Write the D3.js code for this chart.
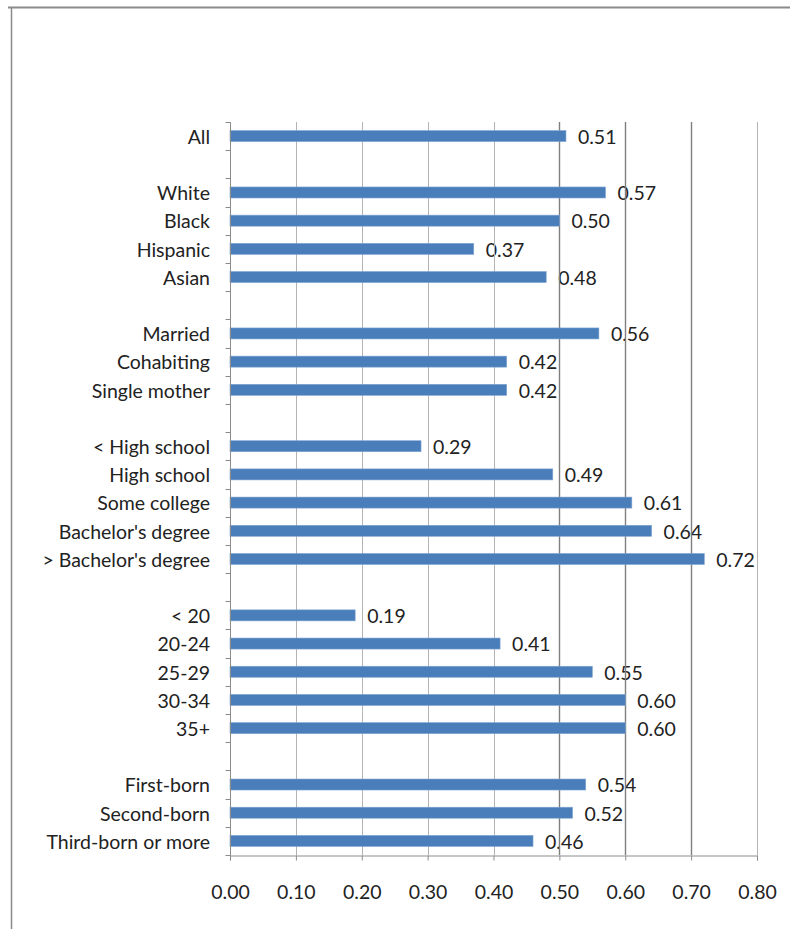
<!DOCTYPE html>
<html>
<head>
<meta charset="utf-8">
<script src="https://cdn.jsdelivr.net/npm/d3@7"></script>
<style>
  html, body { margin: 0; padding: 0; background: #fff; }
  svg { display: block; }
  text { font-family: Lato, "Open Sans", sans-serif; fill: #222; }
</style>
</head>
<body>
<div id="chart"></div>
<script>
// Share of mothers, by characteristic (groups separated by a blank row)
const allLabels = ["All"];
const allValues = [0.51];
const raceLabels = ["White", "Black", "Hispanic", "Asian"];
const raceValues = [0.57, 0.50, 0.37, 0.48];
const unionLabels = ["Married", "Cohabiting", "Single mother"];
const unionValues = [0.56, 0.42, 0.42];
const eduLabels = ["< High school", "High school", "Some college", "Bachelor's degree", "> Bachelor's degree"];
const eduValues = [0.29, 0.49, 0.61, 0.64, 0.72];
const ageLabels = ["< 20", "20-24", "25-29", "30-34", "35+"];
const ageValues = [0.19, 0.41, 0.55, 0.60, 0.60];
const orderLabels = ["First-born", "Second-born", "Third-born or more"];
const orderValues = [0.54, 0.52, 0.46];
const xTicks = [0, 0.1, 0.2, 0.3, 0.4, 0.5, 0.6, 0.7, 0.8];

const groups = [
  [allLabels, allValues],
  [raceLabels, raceValues],
  [unionLabels, unionValues],
  [eduLabels, eduValues],
  [ageLabels, ageValues],
  [orderLabels, orderValues]
];

// Flatten into rows, with an empty spacer row between groups
const rows = [];
groups.forEach(([labels, values], gi) => {
  if (gi > 0) rows.push({ id: "gap" + gi, label: "", value: null });
  labels.forEach((l, i) => rows.push({ id: l, label: l, value: values[i] }));
});

const W = 790, H = 929;
const FS = 19.5;
const svg = d3.select("#chart").append("svg").attr("width", W).attr("height", H);

// outer frame (top and left edges)
svg.append("line").attr("x1", 8).attr("x2", W).attr("y1", 7.5).attr("y2", 7.5)
  .attr("stroke", "#8a8a8a").attr("stroke-width", 2);
svg.append("line").attr("x1", 11.5).attr("x2", 11.5).attr("y1", 7).attr("y2", H)
  .attr("stroke", "#8a8a8a").attr("stroke-width", 1.5);

const x = d3.scaleLinear().domain([0, 0.8]).range([230, 757]);
const y = d3.scaleBand().domain(rows.map(r => r.id)).range([122, 855]).padding(0);
const barH = 11;
const dataRows = rows.filter(r => r.value !== null);

// value labels
svg.append("g").selectAll("text").data(dataRows).join("text")
  .attr("x", d => x(d.value) + 12)
  .attr("y", d => y(d.id) + y.bandwidth() / 2 + 1)
  .attr("dy", "0.35em")
  .attr("font-size", FS)
  .text(d => d.value.toFixed(2));

// vertical gridlines
svg.append("g").selectAll("line").data(xTicks.slice(1)).join("line")
  .attr("x1", d => Math.round(x(d)) + 0.5).attr("x2", d => Math.round(x(d)) + 0.5)
  .attr("y1", y.range()[0]).attr("y2", y.range()[1])
  .attr("stroke", d => (d >= 0.45 && d <= 0.75) ? "#7f7f7f" : "#b4b4b4")
  .attr("stroke-width", d => (d >= 0.45 && d <= 0.75) ? 1.4 : 1);

// bars
svg.append("g").selectAll("rect").data(dataRows).join("rect")
  .attr("x", x(0))
  .attr("y", d => y(d.id) + (y.bandwidth() - barH) / 2)
  .attr("width", d => x(d.value) - x(0))
  .attr("height", barH)
  .attr("fill", "#4a7ebb")
  .attr("stroke", "#7fa3d0").attr("stroke-width", 0.6);

// category axis: line, boundary ticks and labels
const axisG = svg.append("g");
const x0 = Math.round(x(0)) + 0.5;
axisG.append("line").attr("x1", x0).attr("x2", x0)
  .attr("y1", y.range()[0]).attr("y2", y.range()[1] + 5)
  .attr("stroke", "#8c8c8c");
const bounds = rows.map(r => y(r.id)).concat([y.range()[1]]);
axisG.selectAll("line.tick").data(bounds).join("line").attr("class", "tick")
  .attr("x1", x0 - 5).attr("x2", x0)
  .attr("y1", d => Math.round(d) + 0.5).attr("y2", d => Math.round(d) + 0.5)
  .attr("stroke", "#8c8c8c");
axisG.selectAll("text").data(dataRows).join("text")
  .attr("x", 210)
  .attr("y", d => y(d.id) + y.bandwidth() / 2 + 1)
  .attr("dy", "0.35em")
  .attr("text-anchor", "end")
  .attr("font-size", FS)
  .text(d => d.label);

// value axis at the bottom
const xAxis = d3.axisBottom(x).tickValues(xTicks).tickSize(5).tickPadding(32)
  .tickFormat(d3.format(".2f"));
const xg = svg.append("g").attr("transform", `translate(0,${Math.round(y.range()[1]) + 0.5})`).call(xAxis);
xg.select(".domain").attr("stroke", "#8c8c8c");
xg.selectAll(".tick line").attr("stroke", "#8c8c8c");
xg.selectAll(".tick text").attr("font-size", FS).attr("font-family", "Lato, 'Open Sans', sans-serif")
  .attr("fill", "#222").attr("dy", "0.32em");
</script>
</body>
</html>
